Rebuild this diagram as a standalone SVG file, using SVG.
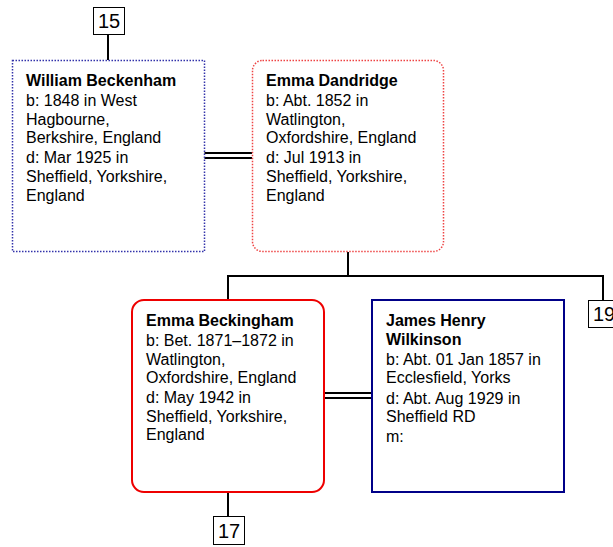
<svg xmlns="http://www.w3.org/2000/svg" width="613" height="547" viewBox="0 0 613 547">
<style>
.t{font-family:"Liberation Sans",Arial,sans-serif;font-size:16px;fill:#000}
.b{font-weight:bold}
.num{font-family:"Liberation Sans",Arial,sans-serif;font-size:20px;fill:#000;text-anchor:middle}
.nb{fill:#fff;stroke:#000;stroke-width:1}
.ln{stroke:#000;stroke-width:2;fill:none}
</style>
<rect width="613" height="547" fill="#fff"/>
<g id="connectors">
<line class="ln" x1="108" y1="35" x2="108" y2="60"/>
<line class="ln" x1="204" y1="153" x2="252" y2="153"/>
<line class="ln" x1="204" y1="158" x2="252" y2="158"/>
<polyline class="ln" points="348,252 348,276"/>
<polyline class="ln" points="228,300 228,276 603,276 603,300"/>
<line class="ln" x1="324" y1="393" x2="372" y2="393"/>
<line class="ln" x1="324" y1="398" x2="372" y2="398"/>
<line class="ln" x1="228" y1="492" x2="228" y2="516"/>
</g>
<g id="ref15">
<rect class="nb" x="93.5" y="7.5" width="31" height="27"/>
<text class="num" x="109" y="28">15</text>
</g>
<g id="william">
<rect x="12.5" y="60.5" width="192" height="191" fill="#fff" stroke="#3333aa" stroke-width="1.5" stroke-dasharray="1.5,1.5"/>
<text class="t b" x="26" y="86">William Beckenham</text>
<text class="t" x="26" y="106">b: 1848 in West</text>
<text class="t" x="26" y="125">Hagbourne,</text>
<text class="t" x="26" y="143">Berkshire, England</text>
<text class="t" x="26" y="163">d: Mar 1925 in</text>
<text class="t" x="26" y="182">Sheffield, Yorkshire,</text>
<text class="t" x="26" y="201">England</text>
</g>
<g id="emmaD">
<rect x="252.5" y="60.5" width="191" height="191" rx="10" fill="#fff" stroke="#ee4444" stroke-width="1.5" stroke-dasharray="1.5,1.5"/>
<text class="t b" x="266" y="86">Emma Dandridge</text>
<text class="t" x="266" y="106">b: Abt. 1852 in</text>
<text class="t" x="266" y="125">Watlington,</text>
<text class="t" x="266" y="143">Oxfordshire, England</text>
<text class="t" x="266" y="163">d: Jul 1913 in</text>
<text class="t" x="266" y="182">Sheffield, Yorkshire,</text>
<text class="t" x="266" y="201">England</text>
</g>
<g id="ref19">
<rect class="nb" x="588.5" y="300.5" width="31" height="27"/>
<text class="num" x="604" y="321">19</text>
</g>
<g id="emmaB">
<rect x="132" y="300" width="192" height="192" rx="12" fill="#fff" stroke="#ee0000" stroke-width="2"/>
<text class="t b" x="146" y="326">Emma Beckingham</text>
<text class="t" x="146" y="346">b: Bet. 1871–1872 in</text>
<text class="t" x="146" y="365">Watlington,</text>
<text class="t" x="146" y="383">Oxfordshire, England</text>
<text class="t" x="146" y="403">d: May 1942 in</text>
<text class="t" x="146" y="422">Sheffield, Yorkshire,</text>
<text class="t" x="146" y="440">England</text>
</g>
<g id="james">
<rect x="372" y="300" width="192" height="192" fill="#fff" stroke="#000088" stroke-width="2"/>
<text class="t b" x="386" y="326">James Henry</text>
<text class="t b" x="386" y="345">Wilkinson</text>
<text class="t" x="386" y="365">b: Abt. 01 Jan 1857 in</text>
<text class="t" x="386" y="383">Ecclesfield, Yorks</text>
<text class="t" x="386" y="404">d: Abt. Aug 1929 in</text>
<text class="t" x="386" y="422">Sheffield RD</text>
<text class="t" x="386" y="442">m:</text>
</g>
<g id="ref17">
<rect class="nb" x="213.5" y="516.5" width="31" height="28"/>
<text class="num" x="229" y="538">17</text>
</g>
</svg>
